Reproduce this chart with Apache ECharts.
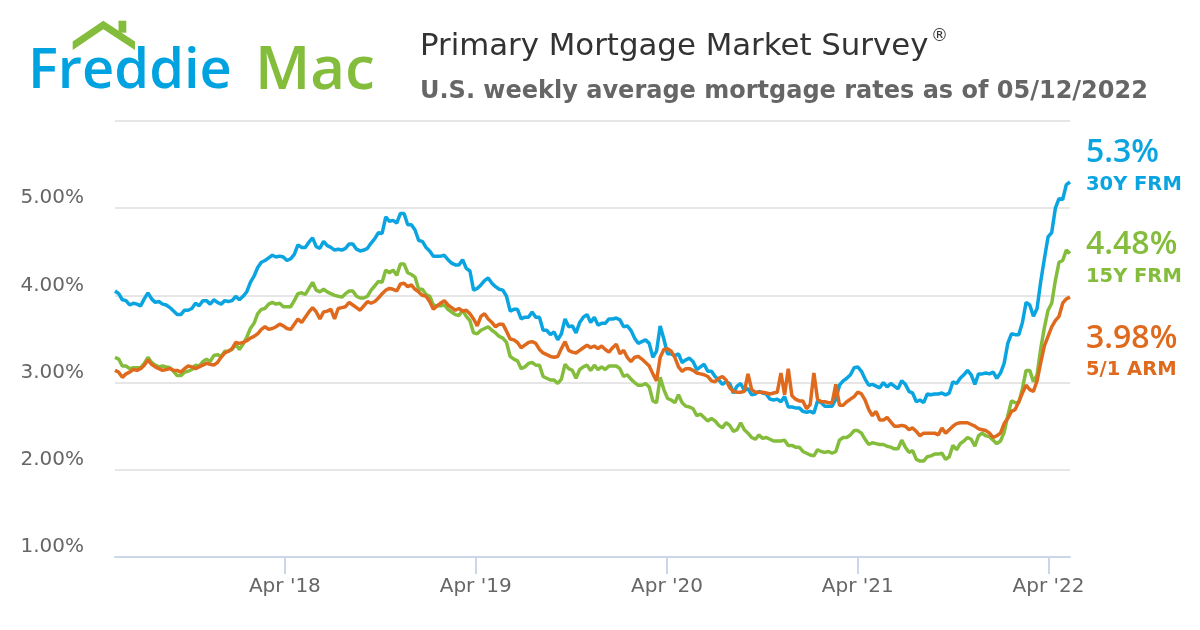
<!DOCTYPE html>
<html>
<head>
<meta charset="utf-8">
<script src="https://cdn.jsdelivr.net/npm/echarts@6/dist/echarts.min.js"></script>
<style>
html,body{margin:0;padding:0;background:#fff;}
#chart{width:1200px;height:630px;}
</style>
</head>
<body>
<div id="chart"></div>
<script>
// Weekly PMMS observations, first week 2017-05-11, last week 2022-05-12
const firstWeek = '2017-05-11';

const rate30 = [
  4.05,4.02,3.95,3.94,3.89,3.91,3.90,3.88,3.96,4.03,3.96,3.92,3.93,3.90,3.89,3.86,3.82,3.78,3.78,3.83,3.83,3.85,3.91,3.88,3.94,3.94,3.90,3.95,3.92,3.90,3.94,3.93,3.94,3.99,
  3.95,3.99,4.04,4.15,4.22,4.32,4.38,4.40,4.43,4.46,4.44,4.45,4.44,4.40,4.42,4.47,4.58,4.55,4.55,4.61,4.66,4.56,4.54,4.62,4.57,4.55,4.52,4.53,4.52,4.54,4.59,4.59,4.53,4.51,4.52,4.54,4.60,4.65,4.72,4.71,4.90,4.85,4.86,4.83,4.94,4.94,4.81,4.81,4.75,4.63,4.62,4.55,
  4.51,4.45,4.45,4.45,4.46,4.41,4.37,4.35,4.35,4.41,4.31,4.28,4.06,4.08,4.12,4.17,4.20,4.14,4.10,4.07,4.06,3.99,3.82,3.84,3.84,3.73,3.75,3.75,3.81,3.75,3.75,3.60,3.60,3.55,3.58,3.49,3.56,3.73,3.64,3.65,3.57,3.69,3.75,3.78,3.69,3.75,3.66,3.68,3.68,3.73,3.73,3.74,
  3.72,3.64,3.65,3.60,3.51,3.45,3.47,3.49,3.45,3.29,3.36,3.65,3.50,3.33,3.33,3.31,3.33,3.23,3.26,3.28,3.24,3.15,3.18,3.21,3.13,3.13,3.07,3.03,2.98,3.01,2.99,2.88,2.96,2.99,2.91,2.93,2.86,2.87,2.90,2.88,2.87,2.81,2.80,2.81,2.78,2.84,2.72,2.72,2.71,2.71,2.67,2.66,2.67,
  2.65,2.79,2.77,2.73,2.73,2.73,2.81,2.97,3.02,3.05,3.09,3.17,3.18,3.13,3.04,2.97,2.98,2.96,2.94,3.00,2.95,2.99,2.96,2.93,3.02,2.98,2.90,2.88,2.78,2.80,2.77,2.87,2.86,2.87,2.87,2.88,2.86,2.88,3.01,2.99,3.05,3.09,3.14,3.09,2.98,3.10,3.10,3.11,3.10,3.12,3.05,3.11,
  3.22,3.45,3.56,3.55,3.55,3.69,3.92,3.89,3.76,3.85,4.16,4.42,4.67,4.72,5.00,5.11,5.10,5.27,5.30
];

const rate15 = [
  3.29,3.27,3.19,3.19,3.16,3.17,3.17,3.17,3.22,3.29,3.23,3.20,3.18,3.19,3.18,3.17,3.13,3.08,3.08,3.12,3.13,3.15,3.20,3.19,3.24,3.27,3.24,3.31,3.32,3.30,3.36,3.36,3.38,3.44,
  3.38,3.44,3.52,3.62,3.68,3.79,3.84,3.85,3.90,3.92,3.90,3.91,3.87,3.87,3.87,3.94,4.02,4.03,4.01,4.08,4.15,4.06,4.04,4.07,4.04,4.02,4.00,3.99,3.98,4.02,4.05,4.05,3.99,3.97,3.97,3.99,4.06,4.11,4.16,4.15,4.29,4.26,4.29,4.23,4.36,4.36,4.26,4.24,4.21,4.07,4.07,4.01,
  3.99,3.89,3.88,3.88,3.89,3.84,3.81,3.78,3.77,3.83,3.76,3.71,3.57,3.56,3.60,3.62,3.64,3.60,3.57,3.53,3.51,3.46,3.30,3.27,3.25,3.16,3.18,3.22,3.23,3.20,3.20,3.07,3.05,3.03,3.03,2.99,3.04,3.21,3.16,3.14,3.05,3.15,3.18,3.20,3.14,3.20,3.15,3.18,3.15,3.19,3.19,3.19,
  3.16,3.07,3.09,3.04,3.00,2.97,2.97,2.99,2.95,2.79,2.77,3.06,2.92,2.82,2.80,2.77,2.86,2.77,2.73,2.72,2.70,2.62,2.64,2.60,2.56,2.59,2.56,2.51,2.48,2.54,2.51,2.44,2.46,2.54,2.46,2.42,2.37,2.35,2.40,2.36,2.37,2.35,2.33,2.33,2.33,2.34,2.28,2.28,2.26,2.26,2.21,2.19,2.17,
  2.16,2.23,2.21,2.20,2.21,2.19,2.21,2.34,2.37,2.37,2.40,2.45,2.45,2.42,2.35,2.29,2.31,2.30,2.29,2.29,2.27,2.26,2.24,2.24,2.34,2.26,2.20,2.22,2.12,2.10,2.10,2.15,2.16,2.18,2.18,2.19,2.12,2.15,2.28,2.23,2.30,2.33,2.37,2.35,2.27,2.39,2.42,2.39,2.38,2.34,2.30,2.33,
  2.43,2.62,2.79,2.77,2.77,2.93,3.14,3.14,3.01,3.09,3.39,3.63,3.83,3.91,4.17,4.38,4.40,4.52,4.48
];

const arm51 = [
  3.14,3.12,3.06,3.10,3.12,3.15,3.14,3.16,3.20,3.26,
  3.21,3.18,3.16,3.14,3.15,3.16,3.14,3.14,3.12,3.16,
  3.19,3.18,3.16,3.18,3.20,3.22,3.21,3.20,3.23,3.29,
  3.34,3.36,3.39,3.46,3.45,3.46,3.48,3.51,3.53,3.56,
  3.61,3.64,3.61,3.62,3.64,3.67,3.65,3.62,3.61,3.67,
  3.73,3.69,3.75,3.81,3.86,3.81,3.73,3.81,3.82,3.84,
  3.73,3.85,3.86,3.87,3.92,
  3.89,3.86,3.83,3.88,3.93,3.91,3.93,3.97,4.02,4.06,
  4.08,4.07,4.05,4.13,4.14,4.10,4.12,4.07,4.04,4.00,
  3.99,3.93,3.84,3.88,3.91,3.94,3.89,3.86,3.83,3.85,
  3.82,3.83,3.79,3.73,3.65,3.76,3.79,3.73,3.69,3.64,
  3.67,3.67,3.59,3.50,3.49,3.46,3.40,3.43,3.46,3.47,
  3.45,3.38,3.34,3.32,3.30,3.29,3.30,3.39,3.47,3.37,
  3.35,3.34,3.37,3.40,
  3.43,3.40,3.42,3.39,3.42,3.38,3.35,3.40,3.44,3.33,
  3.37,3.29,3.24,3.29,3.30,3.27,3.23,3.19,3.10,3.02,
  3.29,3.38,3.39,3.36,3.29,3.18,3.13,3.16,3.16,3.14,
  3.11,3.10,3.09,3.07,3.02,3.01,3.05,3.07,3.03,2.94,
  2.90,2.89,2.89,2.90,3.10,2.92,2.89,2.89,2.89,2.88,
  2.87,2.88,2.89,3.11,2.86,3.16,2.85,2.81,2.79,2.79,
  2.70,2.75,3.11,2.81,2.78,2.78,2.77,2.77,2.98,2.74,
  2.74,2.78,2.81,2.84,2.89,2.87,2.80,2.69,2.62,2.67,
  2.57,2.57,2.60,2.55,2.50,2.50,2.51,2.50,2.46,2.48,
  2.44,2.39,2.42,2.42,2.42,2.42,2.40,2.48,2.42,2.46,
  2.50,2.53,2.54,2.54,2.54,2.52,2.50,2.47,2.46,2.45,
  2.42,2.37,2.39,2.42,2.53,2.59,2.67,2.69,2.78,2.88,
  2.97,2.92,2.90,3.02,3.23,3.42,3.53,3.64,3.71,3.76,
  3.91,3.96,3.98
];

const seriesNames = ['30Y FRM', '15Y FRM', '5/1 ARM'];
const seriesColors = ['#0aa4e0', '#84bc3c', '#df6a1e'];

const tickDates = ['2018-04-01', '2019-04-01', '2020-04-01', '2021-04-01', '2022-04-01'];
const tickLabels = ["Apr '18", "Apr '19", "Apr '20", "Apr '21", "Apr '22"];

const yTicks = [1, 2, 3, 4, 5, 6];

const title = 'Primary Mortgage Market Survey';
const subtitle = 'U.S. weekly average mortgage rates as of 05/12/2022';

// ---- build
const DAY = 86400000;
const t0 = Date.parse(firstWeek + 'T00:00:00Z');
const weekDate = i => t0 + i * 7 * DAY;
const toPairs = arr => arr.map((v, i) => [weekDate(i), v]);
const tickTimes = tickDates.map(d => Date.parse(d + 'T00:00:00Z'));
const lastIdx = rate30.length - 1;

const chart = echarts.init(document.getElementById('chart'), null, {renderer: 'canvas'});

const allSeries = [rate30, rate15, arm51];
const lastVals = allSeries.map(a => a[a.length - 1]);

const legendY = [[153, 185], [245, 277], [339, 370]];
const graphics = [];
// logo roof
graphics.push({
  type: 'polygon', z: 10,
  shape: {points: [[72.7,41.5],[103.3,20.7],[135,41.5],[135,50],[103.3,29.2],[72.7,50]]},
  style: {fill: '#84bc3c'}
});
graphics.push({
  type: 'rect', z: 10,
  shape: {x: 118.5, y: 20.7, width: 7.8, height: 12},
  style: {fill: '#84bc3c'}
});
graphics.push({
  type: 'text', z: 10, x: 28, y: 72,
  style: {text: 'Freddie', fill: '#00a3e0', font: '600 56px "Open Sans"', verticalAlign: 'middle', align: 'left'}
});
graphics.push({
  type: 'text', z: 10, x: 255, y: 72,
  style: {text: 'Mac', fill: '#84bc3c', font: '600 60px "Open Sans"', verticalAlign: 'middle', align: 'left'}
});
// titles
graphics.push({
  type: 'text', z: 10, x: 420, y: 47,
  style: {text: title, fill: '#333333', font: '30.8px "DejaVu Sans"', verticalAlign: 'middle', align: 'left'}
});
graphics.push({
  type: 'text', z: 10, x: 931, y: 37,
  style: {text: '\u00AE', fill: '#333333', font: '17px "DejaVu Sans"', verticalAlign: 'middle', align: 'left'}
});
graphics.push({
  type: 'text', z: 10, x: 420, y: 92,
  style: {text: subtitle, fill: '#666666', font: 'bold 24px "DejaVu Sans"', verticalAlign: 'middle', align: 'left'}
});
// end-value labels
allSeries.forEach((arr, k) => {
  graphics.push({
    type: 'text', z: 10, x: 1086, y: legendY[k][0],
    style: {text: lastVals[k] + '%', fill: seriesColors[k], font: '600 32px "Open Sans"', verticalAlign: 'middle', align: 'left'}
  });
  graphics.push({
    type: 'text', z: 10, x: 1086, y: legendY[k][1],
    style: {text: seriesNames[k], fill: seriesColors[k], font: 'bold 19.5px "DejaVu Sans"', verticalAlign: 'middle', align: 'left'}
  });
});

const option = {
  animation: false,
  backgroundColor: '#ffffff',
  grid: {left: 115, right: 130, top: 121, bottom: 73, containLabel: false},
  xAxis: {
    type: 'value',
    min: weekDate(0),
    max: weekDate(lastIdx),
    axisLine: {show: true, lineStyle: {color: '#ccd6eb', width: 2}},
    axisTick: {show: true, customValues: tickTimes, length: 17, lineStyle: {color: '#ccd6eb', width: 2}},
    axisLabel: {
      customValues: tickTimes,
      formatter: (v) => {
        const k = tickTimes.indexOf(v);
        return k >= 0 ? tickLabels[k] : '';
      },
      fontFamily: 'DejaVu Sans', fontSize: 20, color: '#666666', margin: 20
    },
    splitLine: {show: false},
    z: 5
  },
  yAxis: {
    type: 'value',
    min: yTicks[0], max: yTicks[yTicks.length - 1], interval: 1,
    axisLine: {show: false},
    axisTick: {show: false},
    axisLabel: {
      formatter: v => v.toFixed(2) + '%',
      fontFamily: 'DejaVu Sans', fontSize: 20, color: '#666666',
      margin: 31, verticalAlign: 'bottom', showMaxLabel: false, showMinLabel: true
    },
    splitLine: {show: true, lineStyle: {color: '#e6e6e6', width: 2}}
  },
  graphic: {elements: graphics},
  series: allSeries.map((arr, k) => ({
    name: seriesNames[k],
    type: 'line',
    data: toPairs(arr),
    showSymbol: false,
    symbol: 'none',
    lineStyle: {color: seriesColors[k], width: 3.5},
    itemStyle: {color: seriesColors[k]},
    z: 2 + k
  }))
};
chart.setOption(option);
</script>
</body>
</html>
